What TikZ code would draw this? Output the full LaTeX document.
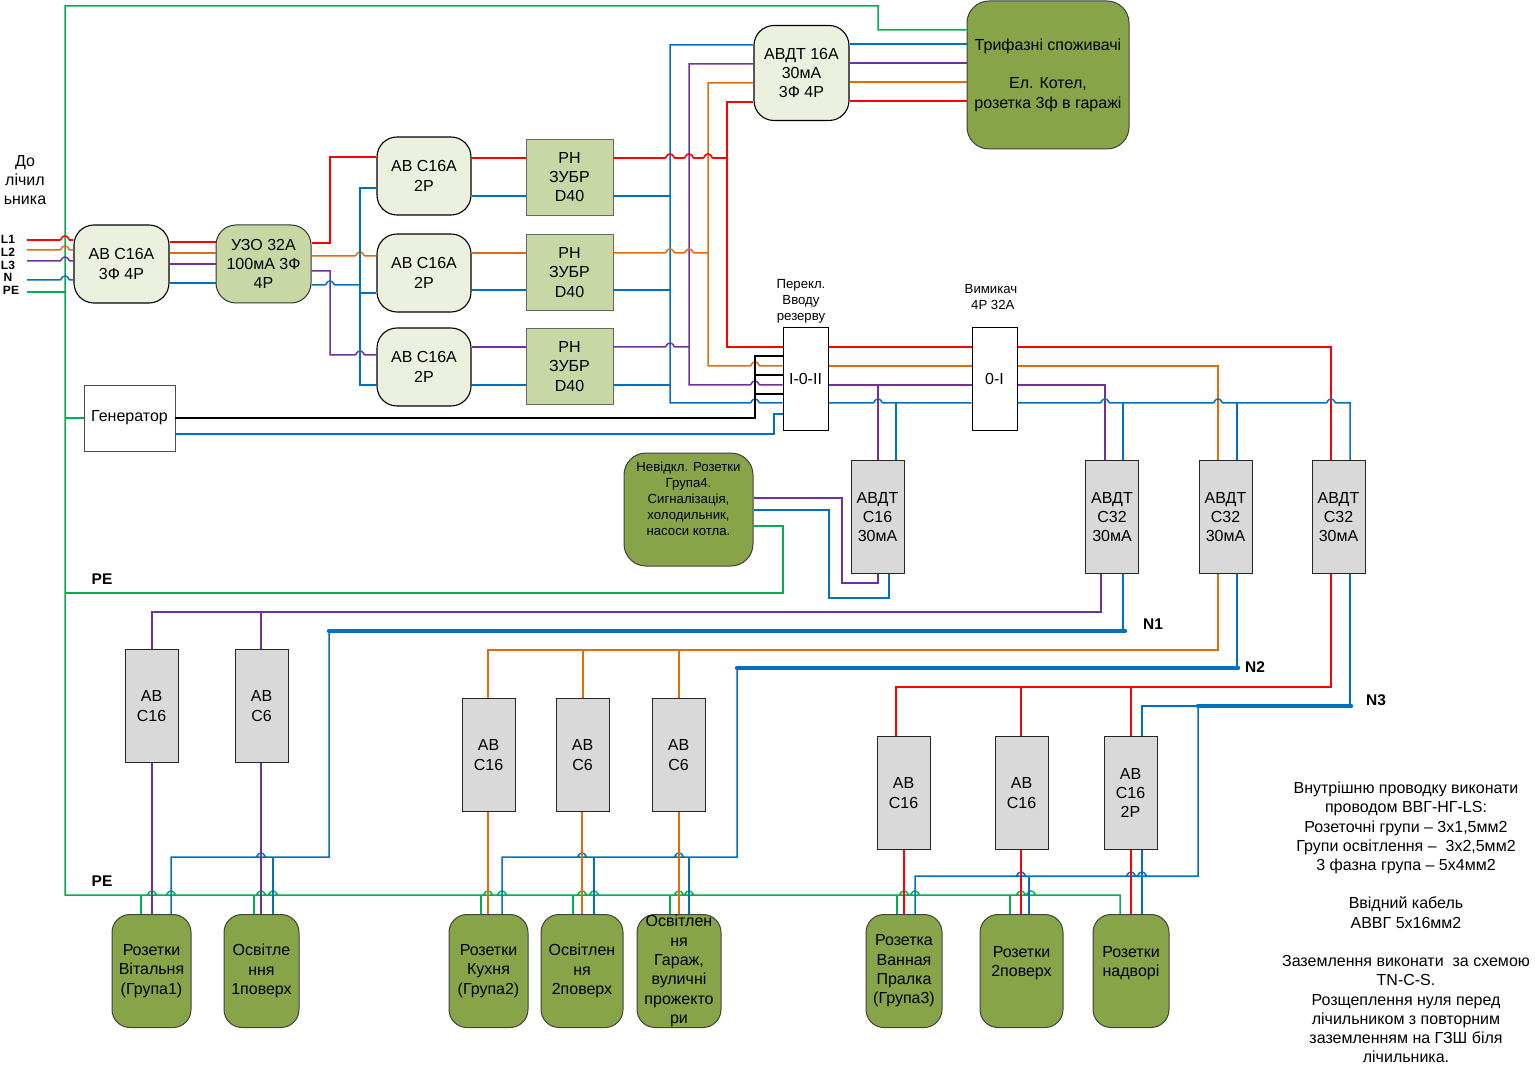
\documentclass[tikz,border=0pt]{standalone}
\usepackage{fontspec}
\setmainfont{Liberation Sans}
\definecolor{wirered}{HTML}{FF0000}
\definecolor{wireorange}{HTML}{E36C0A}
\definecolor{wirepurple}{HTML}{7030A0}
\definecolor{wireblue}{HTML}{0070C0}
\definecolor{wiregreen}{HTML}{00B050}
\definecolor{fillpale}{HTML}{EBF1DE}
\definecolor{fillsage}{HTML}{C8D8A5}
\definecolor{fillmoss}{HTML}{87A548}
\definecolor{fillgrey}{HTML}{D9D9D9}
\newcommand{\hop}[2]{-- (#1-5,#2) .. controls (#1-3.5,#2) and (#1-3.5,#2-4) .. (#1,#2-4) .. controls (#1+3.5,#2-4) and (#1+3.5,#2) .. (#1+5,#2)}
\tikzset{
  txt/.style={font=\fontsize{16}{19.3}\selectfont,align=center,inner sep=0pt},
  txtup/.style={txt,execute at end node={\\[2pt]}},
  txtsmall/.style={font=\fontsize{13.2}{16}\selectfont,align=center,inner sep=0pt},
  txtbold/.style={font=\fontsize{15.5}{15.5}\selectfont\bfseries,inner sep=0pt},
  txtpin/.style={font=\fontsize{12}{12}\selectfont\bfseries,inner sep=0pt},
  blockpale/.style={txtup,draw=black,line width=1.1pt,fill=fillpale,rounded corners=20pt,minimum width=95pt,minimum height=78pt},
  blocksage/.style={txtup,draw=black!80,line width=1pt,fill=fillsage,rounded corners=20pt,minimum width=95pt,minimum height=78pt},
  blockrn/.style={txtup,draw=black!60,line width=.8pt,fill=fillsage,minimum width=87pt,minimum height=76pt},
  blockgrey/.style={txtup,draw=black!85,line width=1pt,fill=fillgrey,minimum width=53pt,minimum height=113pt},
  blockload/.style={txt,draw=black!75,line width=1pt,fill=fillmoss,rounded corners=18pt},
  blockwhite/.style={txt,draw=black,line width=1pt,fill=white,minimum width=45pt,minimum height=102pt},
  wr/.style={wirered,line width=1.6pt},
  wo/.style={wireorange,line width=1.5pt},
  wp/.style={wirepurple,line width=1.5pt},
  wb/.style={wireblue,line width=1.5pt},
  wg/.style={wiregreen,line width=1.5pt},
  wk/.style={black,line width=1.5pt},
  wbus/.style={wireblue,line width=4.5pt,line cap=round},
}
\begin{document}
\begin{tikzpicture}[x=1pt,y=-1pt]
\useasboundingbox (0,0) rectangle (1535,1067);
% text at the feed
\node[txt] (feed) at (25,180) {До\\лічил\\ьника};
\node[txtpin] (pinA) at (8,239) {L1};
\node[txtpin] (pinB) at (8,252) {L2};
\node[txtpin] (pinC) at (8,265) {L3};
\node[txtpin] (pinN) at (8,277) {N};
\node[txtpin] (pinE) at (11,290) {PE};
\coordinate (feedA) at (27,240);
\coordinate (feedB) at (27,250);
\coordinate (feedC) at (27,261);
\coordinate (feedN) at (27,280);
\coordinate (feedE) at (27,292);
% top row
\node[blockpale] (qfmain) at (121.5,264) {АВ С16А\\3Ф 4Р};
\node[blocksage] (rcd) at (263.5,264) {УЗО 32А\\100мА 3Ф\\4Р};
\node[blockpale,minimum width=94pt] (qfA) at (424,176) {АВ С16А\\2Р};
\node[blockpale,minimum width=94pt] (qfB) at (424,273) {АВ С16А\\2Р};
\node[blockpale,minimum width=94pt] (qfC) at (424,367) {АВ С16А\\2Р};
\node[blockrn] (rnA) at (569.5,177) {РН\\ЗУБР\\D40};
\node[blockrn] (rnB) at (569.5,272.5) {РН\\ЗУБР\\D40};
\node[blockrn] (rnC) at (569.5,366.5) {РН\\ЗУБР\\D40};
\node[blockpale,minimum height=95pt] (rcbo) at (801.5,73) {АВДТ 16А\\30мА\\3Ф 4Р};
\node[blockload,minimum width=162pt,minimum height=148pt,rounded corners=22pt] (load) at (1048,75) {Трифазні споживачі\\ ~\\Ел. Котел,\\розетка 3ф в гаражі};
\node[txt,draw=black!70,line width=.7pt,fill=white,minimum width=91pt,minimum height=66pt] (gen) at (129.5,418) {Генератор};
% switches
\node[blockwhite] (swA) at (805.5,379) {I-0-II};
\node[blockwhite] (swB) at (994.5,379) {0-I};
\node[txtsmall] (swAlbl) at (801,301.5) {Перекл.\\Вводу\\резерву};
\node[txtsmall] (swBlbl) at (991,297.5) {Вимикач\\~4Р 32А};
% residual current row
\node[blockload,minimum width=129pt,minimum height=113pt,rounded corners=22pt,txtsmall] (urgent) at (688.5,509.5) {Невідкл. Розетки\\Група4.\\Сигналізація,\\холодильник,\\насоси котла.\\[5pt] ~};
\node[blockgrey] (rcA) at (877.5,517) {АВДТ\\С16\\30мА};
\node[blockgrey] (rcB) at (1112,517) {АВДТ\\С32\\30мА};
\node[blockgrey] (rcC) at (1225.5,517) {АВДТ\\С32\\30мА};
\node[blockgrey] (rcD) at (1338.5,517) {АВДТ\\С32\\30мА};
% group breakers
\node[blockgrey] (abA) at (151.5,706) {АВ\\С16};
\node[blockgrey] (abB) at (261.5,706) {АВ\\С6};
\node[blockgrey] (abC) at (488.5,755) {АВ\\С16};
\node[blockgrey] (abD) at (582.5,755) {АВ\\С6};
\node[blockgrey] (abE) at (678.5,755) {АВ\\С6};
\node[blockgrey] (abF) at (903.5,793) {АВ\\С16};
\node[blockgrey] (abG) at (1021.5,793) {АВ\\С16};
\node[blockgrey] (abH) at (1130.5,793) {АВ\\С16\\2Р};
% consumers
\node[blockload,minimum width=79pt,minimum height=113pt] (grA) at (151.5,971) {Розетки\\Вітальня\\(Група1)};
\node[blockload,minimum width=75pt,minimum height=113pt] (grB) at (261.5,971) {Освітле\\ння\\1поверх};
\node[blockload,minimum width=79pt,minimum height=113pt] (grC) at (488.5,971) {Розетки\\Кухня\\(Група2)};
\node[blockload,minimum width=82pt,minimum height=113pt] (grD) at (582,971) {Освітлен\\ня\\2поверх};
\node[blockload,minimum width=84pt,minimum height=113pt] (grE) at (679,971) {Освітлен\\ня\\Гараж,\\вуличні\\прожекто\\ри};
\node[blockload,minimum width=76pt,minimum height=113pt] (grF) at (904,971) {Розетка\\Ванная\\Пралка\\(Група3)};
\node[blockload,minimum width=83pt,minimum height=113pt] (grG) at (1021.5,971) {Розетки\\2поверх\\ ~};
\node[blockload,minimum width=76pt,minimum height=113pt] (grH) at (1131,971) {Розетки\\надворі\\ ~};
% labels
\node[txtbold] (peA) at (102,579) {PE};
\node[txtbold] (peB) at (102,881) {PE};
\node[txtbold] (busAlbl) at (1153,624) {N1};
\node[txtbold] (busBlbl) at (1255,667.5) {N2};
\node[txtbold] (busClbl) at (1376,700) {N3};
\node[txt,font=\fontsize{16}{19.23}\selectfont] (notes) at (1406,922.5) {Внутрішню проводку виконати\\проводом ВВГ-НГ-LS:\\Розеточні групи – 3х1,5мм2\\Групи освітлення –~~3х2,5мм2\\3 фазна група – 5х4мм2\\ ~\\Ввідний кабель\\АВВГ 5х16мм2\\ ~\\Заземлення виконати~~за схемою\\TN-C-S.\\Розщеплення нуля перед\\лічильником з повторним\\заземленням на ГЗШ біля\\лічильника.};
% PE
\coordinate (earthTop) at (65,6);
\coordinate (earthBot) at (65,895);
\draw[wg] (grH.north -| 1120,0) -- (1120,895) \hop{1031}{895} \hop{1021}{895} \hop{915}{895} \hop{904}{895} \hop{689}{895} \hop{679}{895} \hop{594}{895} \hop{582}{895} \hop{502}{895} \hop{488}{895} \hop{273}{895} \hop{261}{895} \hop{171}{895} \hop{152}{895} -- (earthBot) -- (earthTop) -- (878,6) -- (878,30) -- (load.west |- 0,30);
\draw[wg] (feedE) -- (65,292);
\draw[wg] (65,418) -- (gen.west);
\draw[wg] (65,593) -- (783,593) -- (783,526) -- (urgent.east |- 0,526);
\draw[wg] (141,895) -- (grA.north -| 141,0);
\draw[wg] (254,895) -- (grB.north -| 254,0);
\draw[wg] (481,895) -- (grC.north -| 481,0);
\draw[wg] (573,895) -- (grD.north -| 573,0);
\draw[wg] (670,895) -- (grE.north -| 670,0);
\draw[wg] (897,895) -- (grF.north -| 897,0);
\draw[wg] (1010,895) -- (grG.north -| 1010,0);
% feed to main breaker
\draw[wr] (feedA) \hop{65}{240} -- (qfmain.west |- 0,240);
\draw[wo] (feedB) \hop{65}{250} -- (qfmain.west |- 0,250);
\draw[wp] (feedC) \hop{65}{261} -- (qfmain.west |- 0,261);
\draw[wb] (feedN) \hop{65}{280} -- (qfmain.west |- 0,280);
\draw[wr] (qfmain.east |- 0,242) -- (rcd.west |- 0,242);
\draw[wo] (qfmain.east |- 0,253) -- (rcd.west |- 0,253);
\draw[wp] (qfmain.east |- 0,264) -- (rcd.west |- 0,264);
\draw[wb] (qfmain.east |- 0,283) -- (rcd.west |- 0,283);
% rcd to breakers
\draw[wr] (rcd.east |- 0,243) -- (330,243) -- (330,157) -- (qfA.west |- 0,157);
\draw[wo] (rcd.east |- 0,256) \hop{360}{256} -- (qfB.west |- 0,256);
\draw[wp] (rcd.east |- 0,271) -- (330,271) -- (330,355) \hop{360}{355} -- (qfC.west |- 0,355);
\draw[wb] (rcd.east |- 0,285) \hop{330}{285} -- (360,285);
\draw[wb] (qfA.west |- 0,188) -- (360,188) -- (360,385) -- (qfC.west |- 0,385);
\draw[wb] (360,293) -- (qfB.west |- 0,293);
% breakers to rn
\draw[wr] (qfA.east |- 0,158) -- (rnA.west |- 0,158);
\draw[wb] (qfA.east |- 0,196) -- (rnA.west |- 0,196);
\draw[wo] (qfB.east |- 0,253) -- (rnB.west |- 0,253);
\draw[wb] (qfB.east |- 0,290) -- (rnB.west |- 0,290);
\draw[wp] (qfC.east |- 0,347) -- (rnC.west |- 0,347);
\draw[wb] (qfC.east |- 0,385) -- (rnC.west |- 0,385);
% rn to the four risers
\draw[wb] (rcbo.west |- 0,45) -- (670,45) -- (670,403) \hop{755}{403} -- (swA.west |- 0,403);
\draw[wp] (rcbo.west |- 0,64) -- (689,64) -- (689,385) \hop{755}{385} -- (swA.west |- 0,385);
\draw[wo] (rcbo.west |- 0,83) -- (708,83) -- (708,366) \hop{755}{366} -- (swA.west |- 0,366);
\draw[wr] (rcbo.west |- 0,102) -- (727,102) -- (727,347) -- (swA.west |- 0,347);
\draw[wr] (rnA.east |- 0,158) \hop{670}{158} \hop{689}{158} \hop{708}{158} -- (727,158);
\draw[wb] (rnA.east |- 0,196) -- (670,196);
\draw[wo] (rnB.east |- 0,253) \hop{670}{253} \hop{689}{253} -- (708,253);
\draw[wb] (rnB.east |- 0,290) -- (670,290);
\draw[wp] (rnC.east |- 0,347) \hop{670}{347} -- (689,347);
\draw[wb] (rnC.east |- 0,385) -- (670,385);
% three phase load
\draw[wb] (rcbo.east |- 0,44) -- (load.west |- 0,44);
\draw[wp] (rcbo.east |- 0,63) -- (load.west |- 0,63);
\draw[wo] (rcbo.east |- 0,82) -- (load.west |- 0,82);
\draw[wr] (rcbo.east |- 0,101) -- (load.west |- 0,101);
% generator
\draw[wk] (gen.east |- 0,418) -- (755,418) -- (755,356) -- (swA.west |- 0,356);
\draw[wk] (755,375) -- (swA.west |- 0,375);
\draw[wk] (755,394) -- (swA.west |- 0,394);
\draw[wb] (gen.east |- 0,434) -- (774,434) -- (774,414) -- (swA.west |- 0,414);
% between switches
\draw[wr] (swA.east |- 0,347) -- (swB.west |- 0,347);
\draw[wo] (swA.east |- 0,366) -- (swB.west |- 0,366);
\draw[wp] (swA.east |- 0,385) -- (swB.west |- 0,385);
\draw[wb] (swA.east |- 0,403) \hop{878}{403} -- (swB.west |- 0,403);
\draw[wp] (878,385) -- (rcA.north -| 878,0);
\draw[wb] (896,403) -- (rcA.north -| 896,0);
% after main switch
\draw[wr] (swB.east |- 0,347) -- (1331,347) -- (rcD.north -| 1331,0);
\draw[wo] (swB.east |- 0,366) -- (1218,366) -- (rcC.north -| 1218,0);
\draw[wp] (swB.east |- 0,385) -- (1105,385) -- (rcB.north -| 1105,0);
\draw[wb] (swB.east |- 0,403) \hop{1105}{403} \hop{1218}{403} \hop{1331}{403} -- (1350,403) -- (rcD.north -| 1350,0);
\draw[wb] (1123,403) -- (rcB.north -| 1123,0);
\draw[wb] (1237,403) -- (rcC.north -| 1237,0);
% urgent group
\draw[wp] (rcA.south -| 878,0) -- (878,583) -- (842,583) -- (842,498) -- (urgent.east |- 0,498);
\draw[wb] (rcA.south -| 889,0) -- (889,598) -- (829,598) -- (829,510) -- (urgent.east |- 0,510);
% group 1
\coordinate (busAl) at (329,631);
\coordinate (busAr) at (1125,631);
\draw[wbus] (busAl) -- (busAr);
\draw[wp] (rcB.south -| 1101,0) -- (1101,612) -- (152,612) -- (abA.north -| 152,0);
\draw[wp] (261,612) -- (abB.north -| 261,0);
\draw[wb] (rcB.south -| 1123,0) -- (1123,631);
\draw[wb] (busAl) -- (329,857) \hop{261}{857} -- (171,857) -- (grA.north -| 171,0);
\draw[wb] (273,857) -- (grB.north -| 273,0);
\draw[wp] (abA.south -| 152,0) -- (grA.north -| 152,0);
\draw[wp] (abB.south -| 261,0) -- (grB.north -| 261,0);
% group 2
\coordinate (busBl) at (737,668);
\coordinate (busBr) at (1238,668);
\draw[wbus] (busBl) -- (busBr);
\draw[wo] (rcC.south -| 1218,0) -- (1218,650) -- (488,650) -- (abC.north -| 488,0);
\draw[wo] (583,650) -- (abD.north -| 583,0);
\draw[wo] (679,650) -- (abE.north -| 679,0);
\draw[wb] (rcC.south -| 1237,0) -- (1237,668);
\draw[wb] (busBl) -- (737,857) \hop{679}{857} \hop{582}{857} -- (502,857) -- (grC.north -| 502,0);
\draw[wb] (594,857) -- (grD.north -| 594,0);
\draw[wb] (689,857) -- (grE.north -| 689,0);
\draw[wo] (abC.south -| 488,0) -- (grC.north -| 488,0);
\draw[wo] (abD.south -| 582,0) -- (grD.north -| 582,0);
\draw[wo] (abE.south -| 679,0) -- (grE.north -| 679,0);
% group 3
\coordinate (busCl) at (1198,706);
\coordinate (busCr) at (1351,706);
\draw[wbus] (busCl) -- (busCr);
\draw[wr] (rcD.south -| 1331,0) -- (1331,687) -- (896,687) -- (abF.north -| 896,0);
\draw[wr] (1021,687) -- (abG.north -| 1021,0);
\draw[wr] (1131,687) -- (abH.north -| 1131,0);
\draw[wb] (rcD.south -| 1350,0) -- (1350,706);
\draw[wb] (busCl) -- (1142,706) -- (abH.north -| 1142,0);
\draw[wb] (busCl) -- (1198,876) \hop{1142}{876} \hop{1131}{876} \hop{1021}{876} -- (915,876) -- (grF.north -| 915,0);
\draw[wb] (1029,876) -- (grG.north -| 1029,0);
\draw[wb] (abH.south -| 1142,0) -- (grH.north -| 1142,0);
\draw[wr] (abF.south -| 904,0) -- (grF.north -| 904,0);
\draw[wr] (abG.south -| 1021,0) -- (grG.north -| 1021,0);
\draw[wr] (abH.south -| 1131,0) -- (grH.north -| 1131,0);
\end{tikzpicture}
\end{document}
